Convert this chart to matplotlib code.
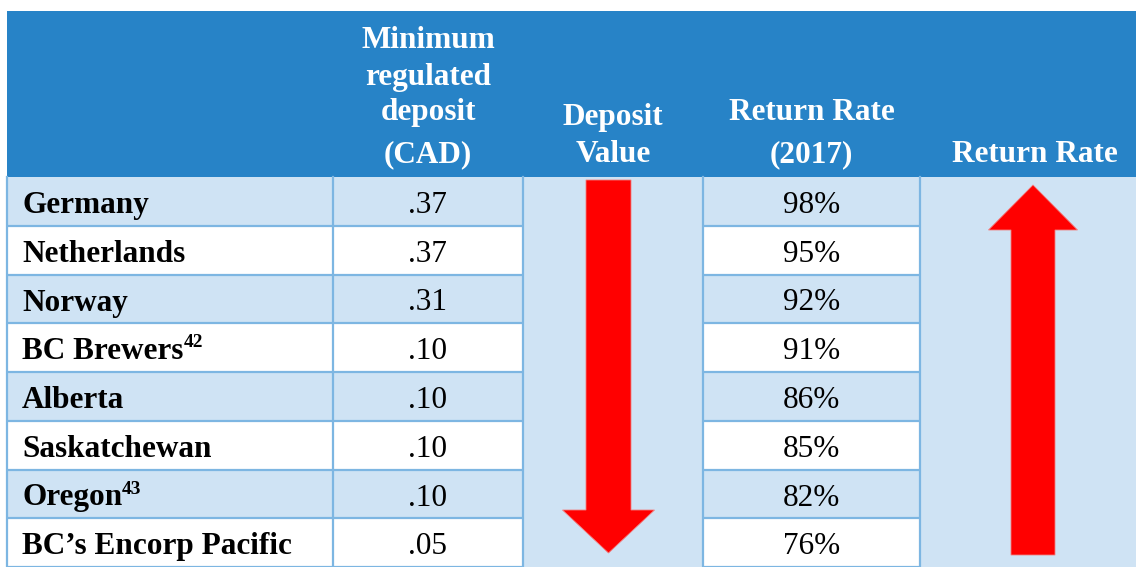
import matplotlib
matplotlib.use("Agg")
import matplotlib.pyplot as plt
from matplotlib.patches import Rectangle, FancyArrow

# ---- data ----
regions = ["Germany", "Netherlands", "Norway", "BC Brewers", "Alberta",
           "Saskatchewan", "Oregon", "BC\u2019s Encorp Pacific"]
footnotes = ["", "", "", "42", "", "", "43", ""]
min_deposit = [".37", ".37", ".31", ".10", ".10", ".10", ".10", ".05"]
return_rate = ["98%", "95%", "92%", "91%", "86%", "85%", "82%", "76%"]
header_lines = [
    [],
    [("Minimum", 48), ("regulated", 85), ("deposit", 120), ("(CAD)", 162)],
    [("Deposit", 125), ("Value", 162)],
    [("Return Rate", 120), ("(2017)", 162)],
    [("Return Rate", 162)],
]

# ---- layout (pixels) ----
W, H = 1136, 567
col_x = [7, 333, 523, 703, 920, 1148]
top, head_bot = 11, 177
row_h = (567 - head_bot) / 8.0

HEAD = "#2783C7"
LIGHT = "#CFE3F4"
GRID = "#7DB6E2"
RED = "#FF0000"
FONT = "Liberation Serif"
FS = 22.5

fig = plt.figure(figsize=(W / 100, H / 100), dpi=100)
ax = fig.add_axes([0, 0, 1, 1])
ax.set_xlim(0, W)
ax.set_ylim(H, 0)
ax.axis("off")

# header
ax.add_patch(Rectangle((col_x[0], top), col_x[-1] - col_x[0], head_bot - top,
                       facecolor=HEAD, edgecolor="none", zorder=1))
for ci, lines in enumerate(header_lines):
    cx = (col_x[ci] + col_x[ci + 1]) / 2
    if ci == 4:
        cx = 1035
    for txt, yb in lines:
        ax.text(cx, yb, txt, ha="center", va="baseline", color="white",
                fontsize=FS, fontweight="bold", family=FONT, zorder=5)

# body rows
for i in range(8):
    y0 = head_bot + i * row_h
    fc = LIGHT if i % 2 == 0 else "white"
    for ci in (0, 1, 3):
        ax.add_patch(Rectangle((col_x[ci], y0), col_x[ci + 1] - col_x[ci], row_h,
                               facecolor=fc, edgecolor="none", zorder=1))
    yb = y0 + 36
    t = ax.text(22, yb, regions[i], ha="left", va="baseline", color="black",
                fontsize=FS, fontweight="bold", family=FONT, zorder=5)
    if footnotes[i]:
        fig.canvas.draw()
        bb = t.get_window_extent()
        xr = bb.x1
        ax.text(xr, yb - 12, footnotes[i], ha="left", va="baseline",
                color="black", fontsize=FS * 0.62, fontweight="bold",
                family=FONT, zorder=5)
    ax.text((col_x[1] + col_x[2]) / 2 - 1, yb, min_deposit[i], ha="center",
            va="baseline", color="black", fontsize=FS, family=FONT, zorder=5)
    ax.text((col_x[3] + col_x[4]) / 2, yb, return_rate[i], ha="center",
            va="baseline", color="black", fontsize=FS, family=FONT, zorder=5)

# merged arrow columns
for ci in (2, 4):
    ax.add_patch(Rectangle((col_x[ci], head_bot), col_x[ci + 1] - col_x[ci],
                           H - head_bot, facecolor=LIGHT, edgecolor="none",
                           zorder=1))

# grid lines
lw = 1.6
for i in range(1, 9):
    y = head_bot + i * row_h
    for ci in (0, 1, 3):
        ax.plot([col_x[ci], col_x[ci + 1]], [y, y], color=GRID, lw=lw,
                solid_capstyle="butt", zorder=3)
for x in col_x[:-1]:
    ax.plot([x, x], [head_bot, H], color=GRID, lw=lw, zorder=3)

# arrows
ax.add_patch(FancyArrow(608.5, 180, 0, 373, width=45, head_width=92,
                        head_length=43, length_includes_head=True,
                        facecolor=RED, edgecolor="#F08080", lw=0.6, zorder=4))
ax.add_patch(FancyArrow(1033, 555, 0, -370, width=44, head_width=89,
                        head_length=45, length_includes_head=True,
                        facecolor=RED, edgecolor="#F08080", lw=0.6, zorder=4))

fig.savefig("out.png", dpi=100, facecolor="white")
